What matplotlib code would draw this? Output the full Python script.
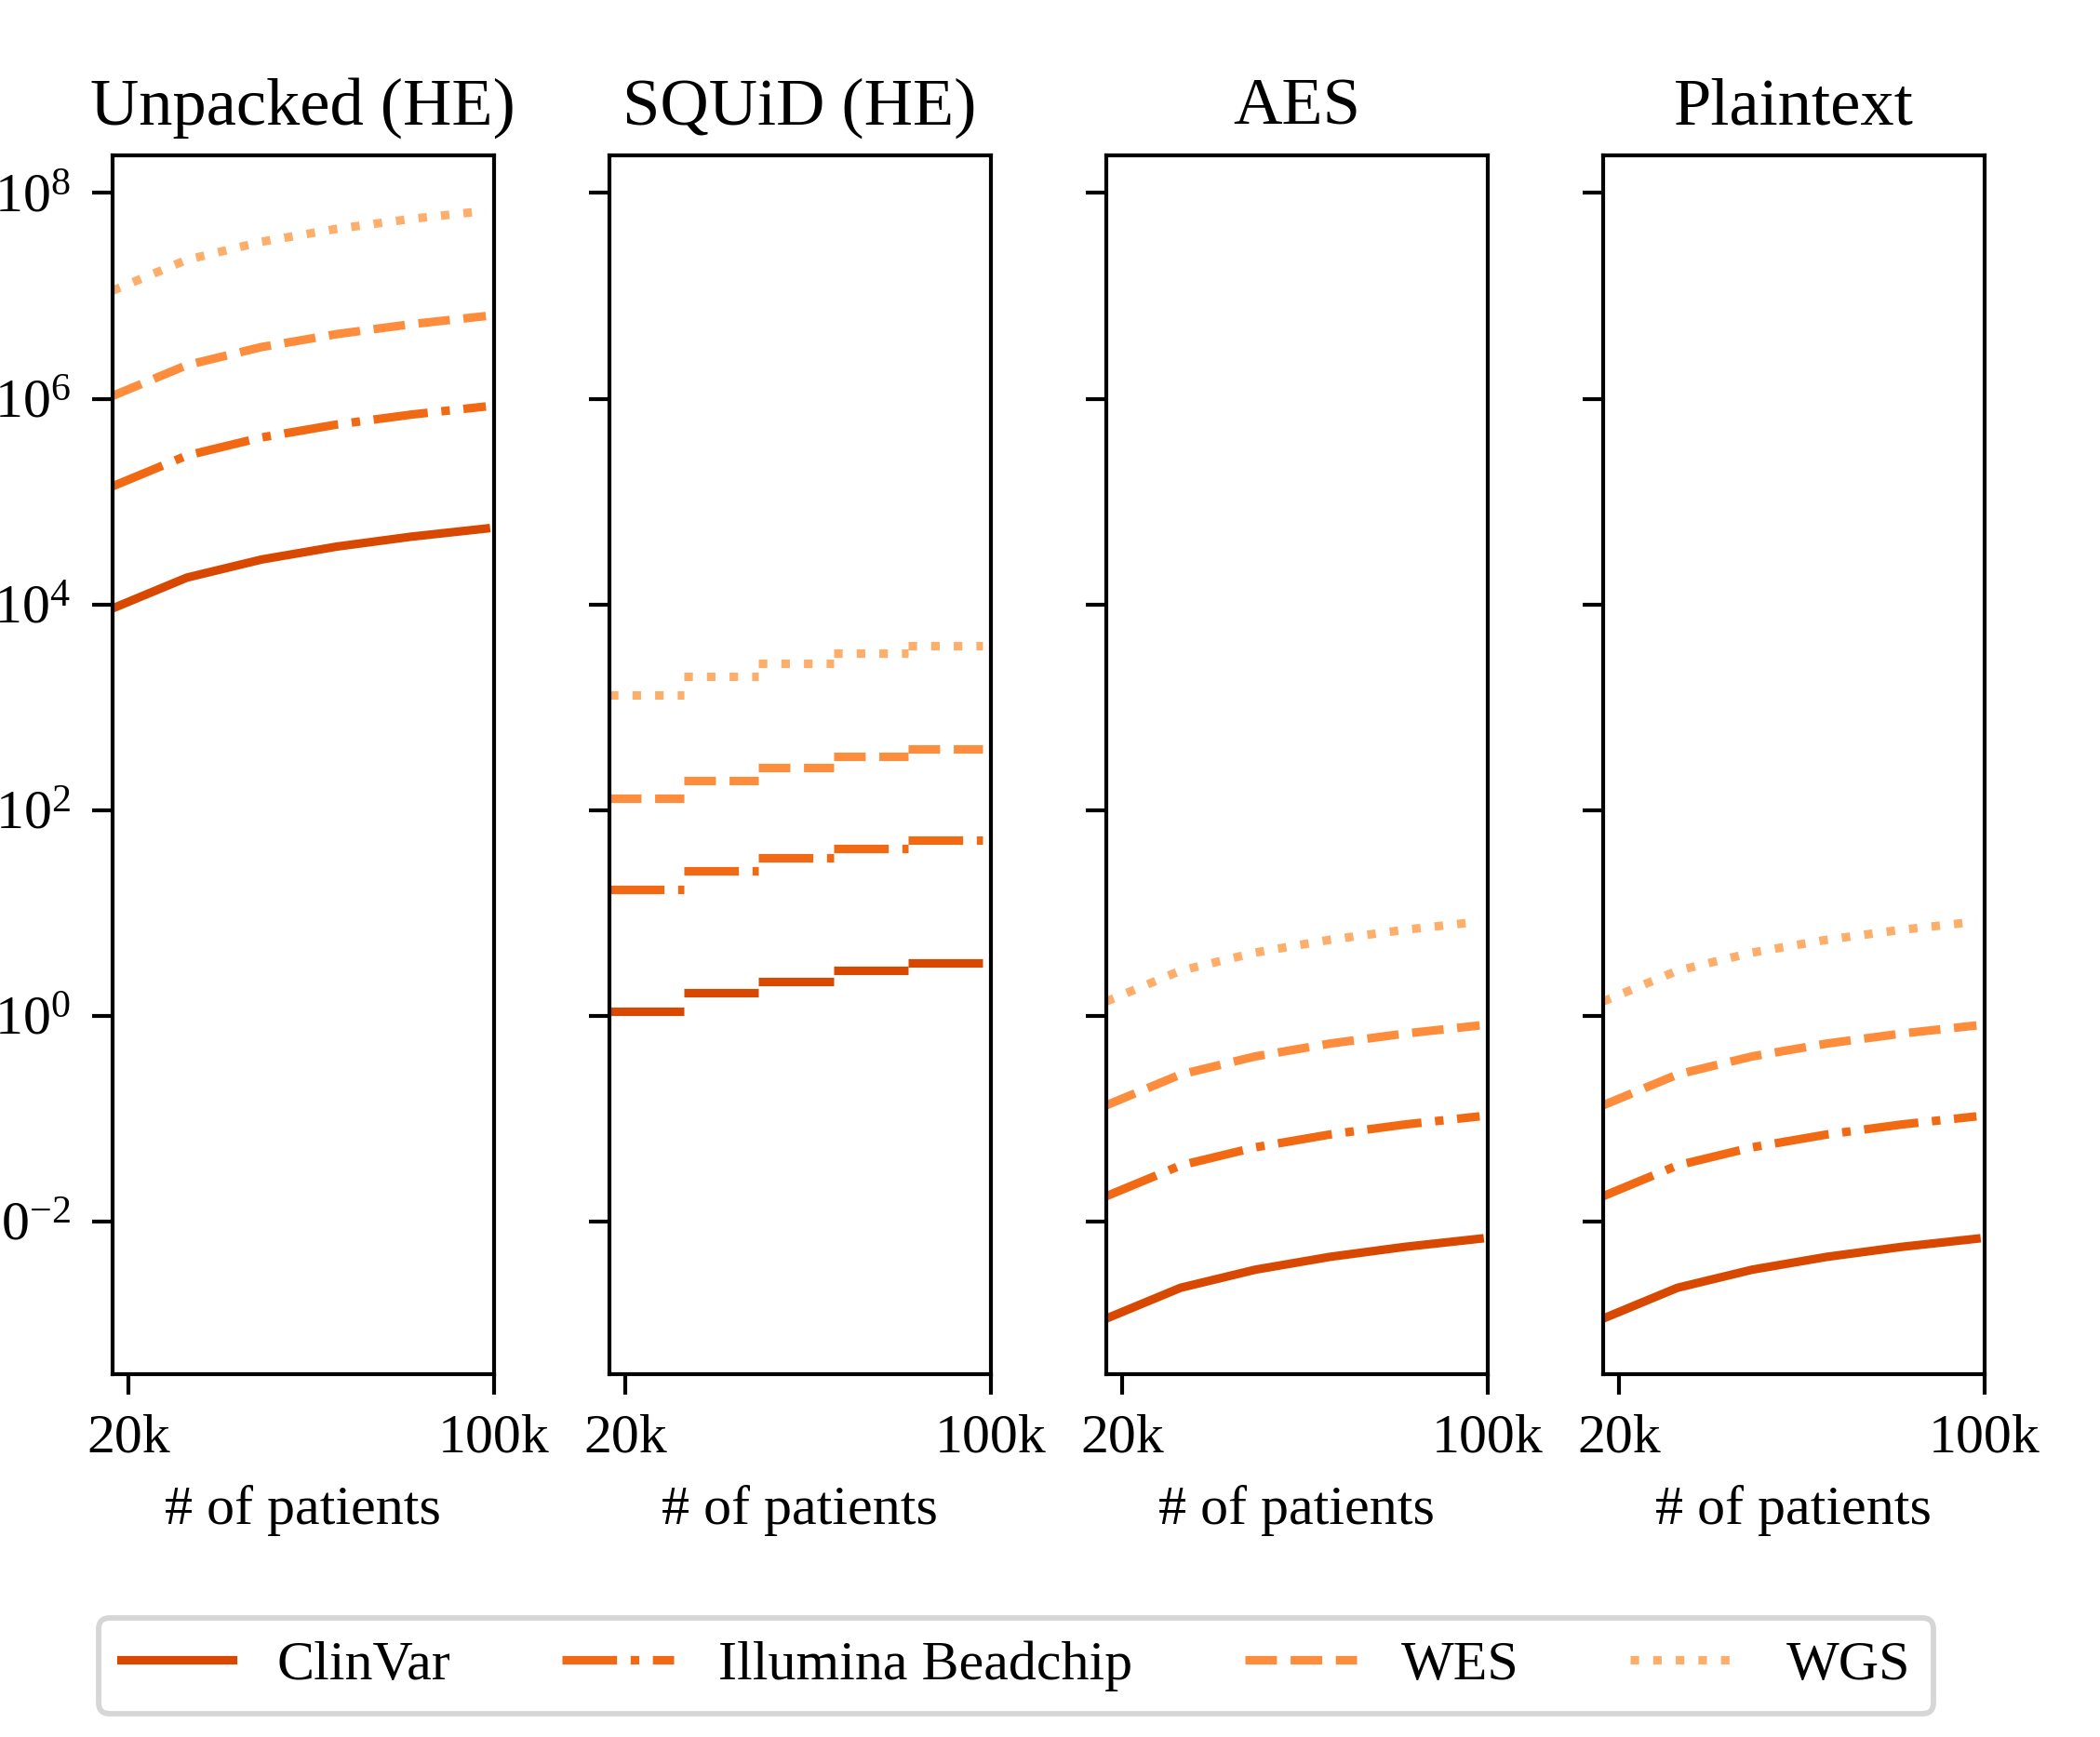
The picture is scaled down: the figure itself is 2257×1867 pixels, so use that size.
import matplotlib
matplotlib.use("Agg")
import matplotlib.pyplot as plt
from matplotlib.ticker import FixedLocator, FixedFormatter, NullLocator

plt.rcParams["font.family"] = "serif"
plt.rcParams["font.serif"] = ["Liberation Serif", "DejaVu Serif"]
plt.rcParams["mathtext.fontset"] = "stix"
plt.rcParams["font.size"] = 14.4
plt.rcParams["axes.linewidth"] = 1.0

# ---------------- data ----------------
patients = [16384, 32768, 49152, 65536, 81920, 98304]
datasets = ["ClinVar", "Illumina Beadchip", "WES", "WGS"]
panel_titles = ["Unpacked (HE)", "SQUiD (HE)", "AES", "Plaintext"]
x_ticks = [20000, 100000]
x_tick_labels = ["20k", "100k"]
y_ticks = [1e-2, 1e0, 1e2, 1e4, 1e6, 1e8]

unpacked_clinvar = [9.1e3, 1.82e4, 2.73e4, 3.64e4, 4.55e4, 5.46e4]
unpacked_illumina = [1.4e5, 2.8e5, 4.2e5, 5.6e5, 7.0e5, 8.4e5]
unpacked_wes = [1.06e6, 2.12e6, 3.18e6, 4.24e6, 5.3e6, 6.36e6]
unpacked_wgs = [1.12e7, 2.24e7, 3.36e7, 4.48e7, 5.6e7, 6.72e7]

# SQUiD: one level per interval between consecutive patient counts
squid_clinvar = [1.11, 1.66, 2.17, 2.74, 3.25]
squid_illumina = [16.9, 25.5, 34.1, 42.2, 51.3]
squid_wes = [129, 194, 260, 329, 393]
squid_wgs = [1318, 1986, 2661, 3334, 3972]

aes_clinvar = [1.13e-3, 2.26e-3, 3.39e-3, 4.52e-3, 5.65e-3, 6.78e-3]
aes_illumina = [1.75e-2, 3.5e-2, 5.25e-2, 7.0e-2, 8.75e-2, 1.05e-1]
aes_wes = [0.134, 0.268, 0.402, 0.536, 0.67, 0.804]
aes_wgs = [1.37, 2.74, 4.11, 5.48, 6.85, 8.22]

plain_clinvar = [1.13e-3, 2.26e-3, 3.39e-3, 4.52e-3, 5.65e-3, 6.78e-3]
plain_illumina = [1.75e-2, 3.5e-2, 5.25e-2, 7.0e-2, 8.75e-2, 1.05e-1]
plain_wes = [0.134, 0.268, 0.402, 0.536, 0.67, 0.804]
plain_wgs = [1.37, 2.74, 4.11, 5.48, 6.85, 8.22]

# ---------------- style ----------------
colors = ["#d94801", "#f16913", "#fd8d3c", "#fdae6b"]
styles = ["-", "-.", "--", ":"]
LW = 2.2

fig, axes = plt.subplots(1, 4, sharey=True, figsize=(2257 / 300, 1867 / 300), dpi=300)
fig.subplots_adjust(left=0.05339, right=0.94485, bottom=0.2089, top=0.91055, wspace=0.3024)

line_panels = {
    0: [unpacked_clinvar, unpacked_illumina, unpacked_wes, unpacked_wgs],
    2: [aes_clinvar, aes_illumina, aes_wes, aes_wgs],
    3: [plain_clinvar, plain_illumina, plain_wes, plain_wgs],
}
squid = [squid_clinvar, squid_illumina, squid_wes, squid_wgs]

handles = []
for i, ax in enumerate(axes):
    if i == 1:
        for vals, c, ls in zip(squid, colors, styles):
            ax.hlines(vals, patients[:-1], patients[1:], colors=c,
                      linestyles=ls, linewidth=LW)
    else:
        for vals, c, ls, lab in zip(line_panels[i], colors, styles, datasets):
            ln, = ax.plot(patients, vals, color=c, linestyle=ls, linewidth=LW, label=lab)
            if i == 0:
                handles.append(ln)
    ax.set_yscale("log")
    ax.set_xlim(16384, 100000)
    ax.xaxis.set_major_locator(FixedLocator(x_ticks))
    ax.xaxis.set_major_formatter(FixedFormatter(x_tick_labels))
    ax.xaxis.set_minor_locator(NullLocator())
    ax.set_title(panel_titles[i], fontsize=17.4, pad=8)
    ax.set_xlabel("# of patients", labelpad=5.5)
    ax.tick_params(axis="both", which="major", length=5.2, width=1.0, pad=5.5)
    ax.tick_params(axis="x", pad=5)

axes[0].yaxis.set_major_locator(FixedLocator(y_ticks))
axes[0].yaxis.set_minor_locator(NullLocator())

leg = fig.legend(handles, datasets, loc="center", bbox_to_anchor=(0.4837, 0.0409),
                 ncol=4, frameon=True, fancybox=True)
leg.get_frame().set_linewidth(1.4)

fig.savefig("out.png", dpi=300)
